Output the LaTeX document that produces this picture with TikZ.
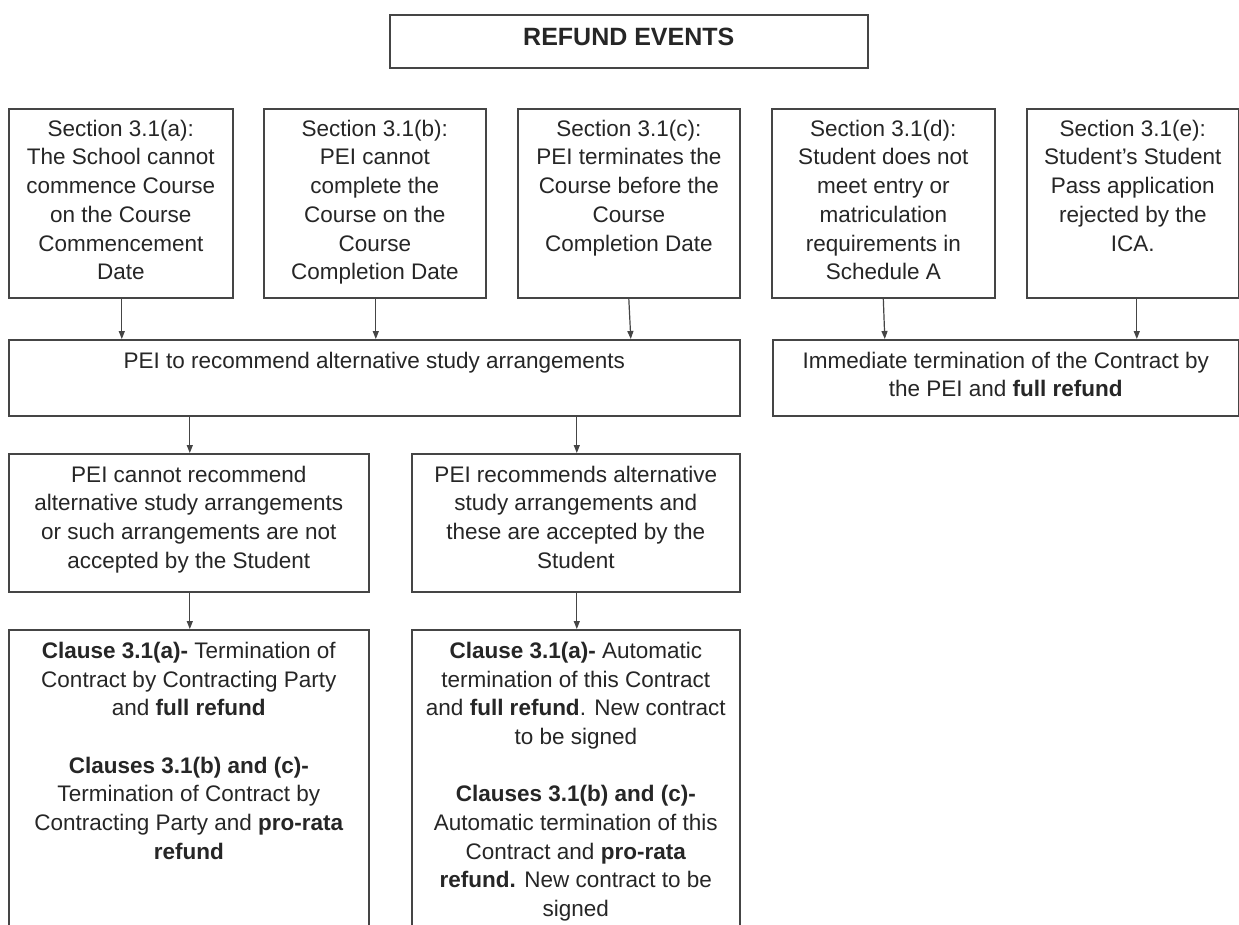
\documentclass[tikz,border=0pt]{standalone}
\usepackage{fontspec}
\setmainfont{Liberation Sans}
\usetikzlibrary{arrows.meta,calc}
\definecolor{linec}{HTML}{454545}
\definecolor{txtc}{HTML}{262626}
\begin{document}
\begin{tikzpicture}[x=1pt,y=-1pt,
  box/.style={draw=linec, line width=1.6pt, rectangle, inner sep=0pt, anchor=north west},
  txt/.style={anchor=north, align=center, inner sep=0pt, text=txtc, font=\fontsize{22.5}{28.7}\selectfont},
  arr/.style={draw=linec, line width=1.2pt, -{Triangle[length=8pt,width=6pt]}}]
\useasboundingbox (0,0) rectangle (1239,924);
\clip (0,0) rectangle (1239,924);
\fill[white] (0,0) rectangle (1239,924);
% title
\node[box, minimum width=478pt, minimum height=53pt] (title) at (389,14) {};
\node[anchor=base, inner sep=0pt, text=txtc, font=\bfseries\fontsize{25}{30}\selectfont] (titletxt) at ($(title.north)+(0,31)$) {REFUND EVENTS};
% row 1
\node[box, minimum width=224pt, minimum height=189pt] (a) at (8,108) {};
\node[box, minimum width=222pt, minimum height=189pt] (b) at (263,108) {};
\node[box, minimum width=222pt, minimum height=189pt] (c) at (517,108) {};
\node[box, minimum width=223pt, minimum height=189pt] (d) at (771,108) {};
\node[box, minimum width=212pt, minimum height=189pt] (e) at (1026,108) {};
\node[txt] (atxt) at ([yshift=-8pt]a.north) {\strut Section 3.1(a):\\The School cannot\\commence Course\\on the Course\\Commencement\\Date};
\node[txt] (btxt) at ([yshift=-8pt]b.north) {\strut Section 3.1(b):\\PEI cannot\\complete the\\Course on the\\Course\\Completion Date};
\node[txt] (ctxt) at ([yshift=-8pt]c.north) {\strut Section 3.1(c):\\PEI terminates the\\Course before the\\Course\\Completion Date};
\node[txt] (dtxt) at ([yshift=-8pt]d.north) {\strut Section 3.1(d):\\Student does not\\meet entry or\\matriculation\\requirements in\\Schedule A};
\node[txt] (etxt) at ([yshift=-8pt]e.north) {\strut Section 3.1(e):\\Student’s Student\\Pass application\\rejected by the\\ICA.};
% row 2
\node[box, minimum width=731pt, minimum height=76pt] (pei) at (8,339) {};
\node[box, minimum width=466pt, minimum height=76pt] (imm) at (772,339) {};
\node[txt] (peitxt) at ([yshift=-9pt]pei.north) {\strut PEI to recommend alternative study arrangements};
\node[txt] (immtxt) at ([yshift=-9pt]imm.north) {\strut Immediate termination of the Contract by\\the PEI and \textbf{full refund}};
% row 3
\node[box, minimum width=360pt, minimum height=138pt] (l3) at (8,453) {};
\node[box, minimum width=328pt, minimum height=138pt] (r3) at (411,453) {};
\node[txt] (l3txt) at ([yshift=-9pt]l3.north) {\strut PEI cannot recommend\\alternative study arrangements\\or such arrangements are not\\accepted by the Student};
\node[txt] (r3txt) at ([yshift=-9pt]r3.north) {\strut PEI recommends alternative\\study arrangements and\\these are accepted by the\\Student};
% row 4
\node[box, minimum width=360pt, minimum height=320pt] (l4) at (8,629) {};
\node[box, minimum width=328pt, minimum height=320pt] (r4) at (411,629) {};
\node[txt] (l4txt) at ([yshift=-9pt]l4.north) {\strut\textbf{Clause 3.1(a)-} Termination of\\Contract by Contracting Party\\and \textbf{full refund}\\[28.7pt]\textbf{Clauses 3.1(b) and (c)-}\\Termination of Contract by\\Contracting Party and \textbf{pro-rata}\\\textbf{refund}};
\node[txt] (r4txt) at ([yshift=-9pt]r4.north) {\strut\textbf{Clause 3.1(a)-} Automatic\\termination of this Contract\\and \textbf{full refund}. New contract\\to be signed\\[28.7pt]\textbf{Clauses 3.1(b) and (c)-}\\Automatic termination of this\\Contract and \textbf{pro-rata}\\\textbf{refund.} New contract to be\\signed};
% connectors
\draw[arr] ([xshift=1pt]a.south) -- ([xshift=1pt]a.south |- pei.north);
\draw[arr] ([xshift=1pt]b.south) -- ([xshift=1pt]b.south |- pei.north);
\draw[arr] (c.south) -- ([xshift=2pt]c.south |- pei.north);
\draw[arr] (d.south) -- ([xshift=1.5pt]d.south |- imm.north);
\draw[arr] ([xshift=4pt]e.south) -- ([xshift=4pt]e.south |- imm.north);
\draw[arr] ([xshift=1pt]l3.north |- pei.south) -- ([xshift=1pt]l3.north);
\draw[arr] ([xshift=1pt]r3.north |- pei.south) -- ([xshift=1pt]r3.north);
\draw[arr] ([xshift=1pt]l3.south) -- ([xshift=1pt]l4.north);
\draw[arr] ([xshift=1pt]r3.south) -- ([xshift=1pt]r4.north);
\end{tikzpicture}
\end{document}
